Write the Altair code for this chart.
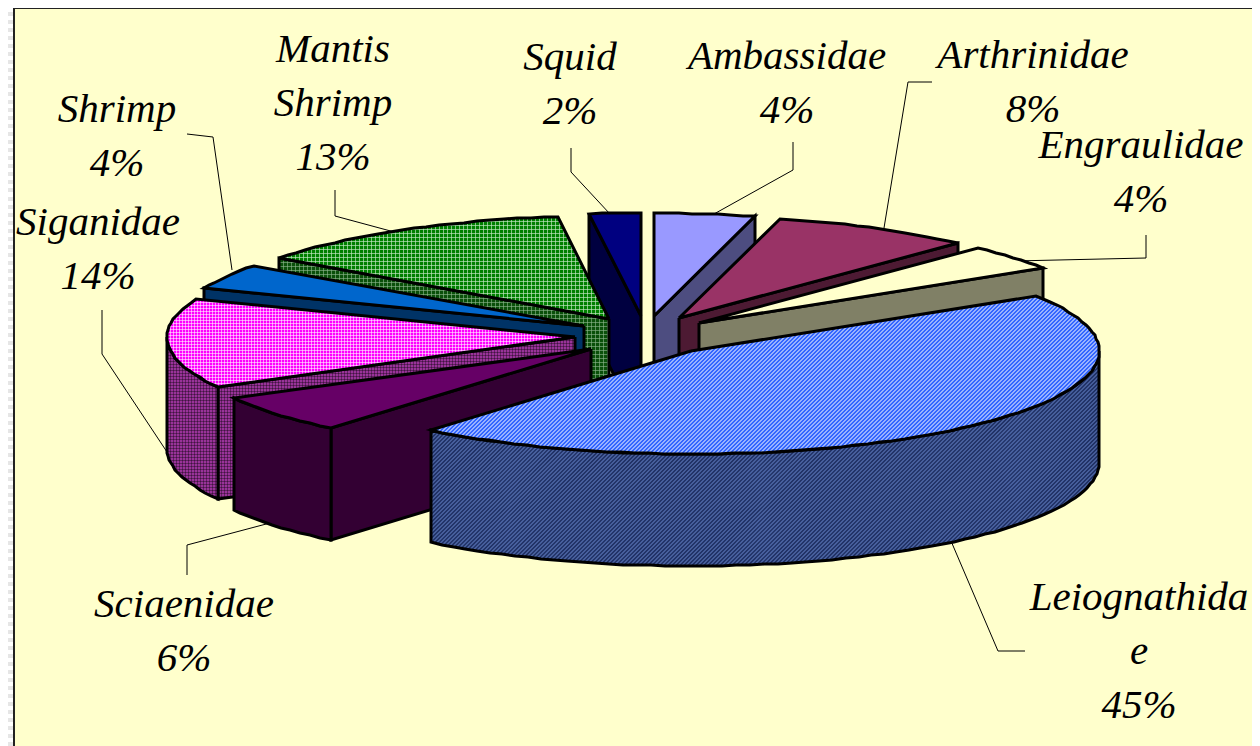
import math
import altair as alt
import pandas as pd

# ---- chart values ----
names = ["Ambassidae", "Arthrinidae", "Engraulidae", "Leiognathidae", "Sciaenidae",
         "Siganidae", "Shrimp", "Mantis Shrimp", "Squid"]
shares = [4, 8, 4, 45, 6, 14, 4, 13, 2]
label_lines = [["Ambassidae"], ["Arthrinidae"], ["Engraulidae"], ["Leiognathida", "e"], ["Sciaenidae"],
               ["Siganidae"], ["Shrimp"], ["Mantis", "Shrimp"], ["Squid"]]

# ---- styles ----
top_colors = ["#9999FF", "#993366", "#FFFFCC", "#3366FF", "#660066", "#FF00FF", "#0066CC", "#008000", "#000080"]
side_colors = ["#4D4D80", "#4D1A33", "#808066", "#4A62A0", "#330033", "#993399", "#003366", "#0A500A", "#000040"]
draw_order = [8, 0, 1, 2, 7, 6, 5, 4, 3]
# hatch per (slice, face): list of (direction, period, colour, width, opacity)
hatches = {
    (3, "top"): [("d", 4, "#FFFFFF", 1.0, 1)],
    (3, "side"): [("d", 4, "#1A2A5C", 1.2, 1)],
    (5, "top"): [("v", 3, "#FFFFFF", 1, 0.55), ("h", 3, "#FFFFFF", 1, 0.55)],
    (5, "side"): [("v", 3, "#000000", 1, 0.35), ("h", 3, "#000000", 1, 0.35)],
    (7, "top"): [("v", 4, "#C8E8C8", 1, 0.65), ("h", 4, "#C8E8C8", 1, 0.65)],
    (7, "side"): [("v", 4, "#90B890", 1, 0.6), ("h", 4, "#90B890", 1, 0.6)],
}

# ---- layout ----
X0, Y0, X1, Y1 = 8, 8, 1252, 746
CX, CY, EXPLODE, EXPLODE_Y, RADIUS, RADIUS_Y, DEPTH = 645, 336, 70, 20, 408, 103, 112
LINE_STEP = 54
label_anchor = [(787, 69), (1033, 68), (1141, 158), (1139, 610), (184, 617),
                (98, 235), (117, 122), (333, 62), (570, 70)]
leader_paths = [
    [(793, 142), (793, 170), (714, 214)],
    [(932, 82), (908, 82), (884, 228)],
    [(1146, 235), (1146, 258), (1014, 261)],
    [(1025, 651), (998, 651), (951, 541)],
    [(187, 575), (187, 545), (270, 523)],
    [(102, 310), (102, 354), (169, 455)],
    [(187, 134), (213, 137), (232, 270)],
    [(335, 190), (335, 216), (398, 233)],
    [(571, 148), (571, 172), (610, 214)],
]

SX = alt.Scale(domain=[X0, X1], nice=False, zero=False)
SY = alt.Scale(domain=[Y0, Y1], nice=False, zero=False, reverse=True)


def enc(extra=None):
    e = dict(x=alt.X("x:Q", scale=SX, axis=None), y=alt.Y("y:Q", scale=SY, axis=None), order=alt.Order("i:Q"))
    if extra:
        e.update(extra)
    return e


def frame(points):
    return pd.DataFrame({"x": [p[0] for p in points], "y": [p[1] for p in points], "i": range(len(points))})


def stripes(a, b, n, x2, y2, duty=0.5):
    stops = []
    for k in range(n):
        stops += [
            {"offset": k / n, "color": a},
            {"offset": (k + duty) / n, "color": a},
            {"offset": (k + duty) / n, "color": b},
            {"offset": (k + 1) / n, "color": b},
        ]
    return {"gradient": "linear", "x1": 0, "y1": 0, "x2": x2, "y2": y2, "stops": stops}


FN = {"v": lambda p: p[0], "h": lambda p: p[1], "d": lambda p: p[0] + p[1]}
KEY = {"v": lambda p: p[1], "h": lambda p: p[0], "d": lambda p: p[0]}


def hatch_rows(poly, mode, period):
    """Segments of a family of parallel lines that fall inside a closed polygon."""
    f, key = FN[mode], KEY[mode]
    vals = [f(p) for p in poly]
    rows = []
    c = math.floor(min(vals)) + 0.5
    k = 0
    while c < max(vals):
        hits = []
        for m in range(len(poly)):
            p, q = poly[m], poly[(m + 1) % len(poly)]
            fp, fq = f(p), f(q)
            if (fp - c) * (fq - c) < 0:
                t = (c - fp) / (fq - fp)
                hits.append((p[0] + t * (q[0] - p[0]), p[1] + t * (q[1] - p[1])))
        hits.sort(key=key)
        for m in range(0, len(hits) - 1, 2):
            for i, h in enumerate(hits[m:m + 2]):
                rows.append({"x": h[0], "y": h[1], "i": i, "k": k})
            k += 1
        c += period
    return pd.DataFrame(rows)


def face_layers(poly, base, idx, face):
    poly = [(round(x), round(y)) for x, y in poly]
    closed = poly + [poly[0]]
    d = frame(closed)
    out = [alt.Chart(d).mark_line(fill=base, strokeWidth=0).encode(**enc())]
    for mode, period, colour, width, opac in hatches.get((idx, face), []):
        rows = hatch_rows(poly, mode, period)
        out.append(alt.Chart(rows).mark_line(stroke=colour, strokeWidth=width, strokeOpacity=opac).encode(
            **enc({"detail": alt.Detail("k:N")})))
    out.append(alt.Chart(d).mark_line(stroke="#000000", strokeWidth=3, strokeJoin="miter").encode(**enc()))
    return out


def point(apex, deg):
    t = math.radians(deg)
    return apex[0] + RADIUS * math.sin(t), apex[1] - RADIUS_Y * math.cos(t)


def arc(apex, a, b, step=2.0):
    n = max(2, int(abs(b - a) / step) + 1)
    return [point(apex, a + (b - a) * k / n) for k in range(n + 1)]


def drop(pts):
    return [(x, y + DEPTH) for x, y in pts]


# ---- slices, all derived from the shares ----
total = sum(shares)
starts = []
acc = 0.0
for s in shares:
    starts.append(acc)
    acc += s / total * 360

pie_layers = []
for idx in draw_order:
    a = starts[idx]
    b = a + shares[idx] / total * 360
    mid = math.radians((a + b) / 2)
    apex = (CX + EXPLODE * math.sin(mid), CY - EXPLODE_Y * math.cos(mid))
    # cut planes facing the viewer
    if math.sin(math.radians(a)) < 0:
        p = point(apex, a)
        poly = [apex, p, (p[0], p[1] + DEPTH), (apex[0], apex[1] + DEPTH)]
        pie_layers += face_layers(poly, side_colors[idx], idx, "side")
    if math.sin(math.radians(b)) > 0:
        p = point(apex, b)
        poly = [apex, p, (p[0], p[1] + DEPTH), (apex[0], apex[1] + DEPTH)]
        pie_layers += face_layers(poly, side_colors[idx], idx, "side")
    # outer wall, front half only
    lo, hi = max(a, 90), min(b, 270)
    if lo < hi:
        rim = arc(apex, lo, hi)
        poly = rim + drop(rim)[::-1]
        pie_layers += face_layers(poly, side_colors[idx], idx, "side")
    # top
    poly = [apex] + arc(apex, a, b)
    pie_layers += face_layers(poly, top_colors[idx], idx, "top")

# ---- page background ----
bg = pd.DataFrame({"x": [X0], "x2": [X1], "y": [Y0], "y2": [Y1]})
stripe_fill = stripes("#FFFFFF", "#E6E6E6", int((Y1 - Y0) / 8), 0, 1)
back = alt.Chart(bg).mark_rect(fill=stripe_fill).encode(
    x=alt.X("x:Q", scale=SX, axis=None), x2="x2:Q", y=alt.Y("y:Q", scale=SY, axis=None), y2="y2:Q")
panel_df = pd.DataFrame({"x": [14], "x2": [X1 + 2], "y": [Y0], "y2": [Y1 + 2]})
panel = alt.Chart(panel_df).mark_rect(fill="#FFFFCC", stroke="#222222", strokeWidth=2, clip=True).encode(
    x=alt.X("x:Q", scale=SX, axis=None), x2="x2:Q", y=alt.Y("y:Q", scale=SY, axis=None), y2="y2:Q")

# ---- leaders and labels ----
leader_rows = []
for k, path in enumerate(leader_paths):
    for i, (x, y) in enumerate(path):
        leader_rows.append({"x": x, "y": y, "i": i, "k": k})
leaders = alt.Chart(pd.DataFrame(leader_rows)).mark_line(stroke="#000000", strokeWidth=1).encode(
    **enc({"detail": alt.Detail("k:N")}))

text_rows = []
for k, lines in enumerate(label_lines):
    ax, ay = label_anchor[k]
    for j, line in enumerate(lines + [f"{shares[k]}%"]):
        text_rows.append({"x": ax, "y": ay + j * LINE_STEP, "t": line})
labels = alt.Chart(pd.DataFrame(text_rows)).mark_text(
    font="Liberation Serif", fontStyle="italic", fontSize=41, align="center", baseline="alphabetic", color="#000000"
).encode(x=alt.X("x:Q", scale=SX, axis=None), y=alt.Y("y:Q", scale=SY, axis=None), text="t:N")

chart = alt.layer(back, panel, leaders, *pie_layers, labels).properties(
    width=X1 - X0, height=Y1 - Y0, padding=0, autosize=alt.AutoSizeParams(type="none")
).configure_view(stroke=None)

chart.save("out.html", embed_options={"renderer": "svg", "actions": False})
